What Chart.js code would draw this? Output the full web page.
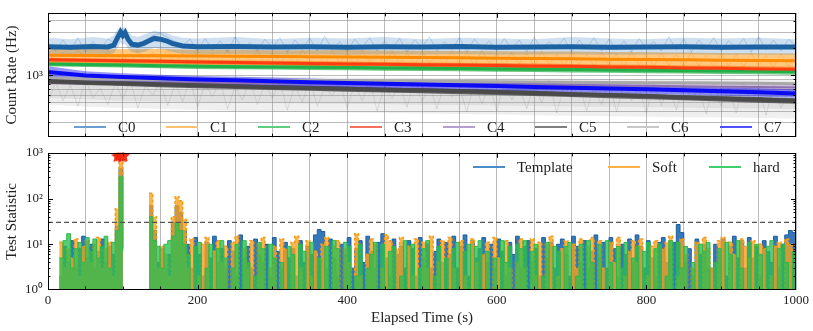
<!DOCTYPE html>
<html><head><meta charset="utf-8">
<script src="https://cdn.jsdelivr.net/npm/chart.js@4/dist/chart.umd.min.js"></script>
<style>
html,body{margin:0;padding:0;background:#fff;}
#wrap{position:relative;width:813px;height:331px;overflow:hidden;font-family:"Liberation Serif",serif;}
#c1{position:absolute;left:0;top:0;}
#c2{position:absolute;left:0;top:140px;}
.leg{position:absolute;height:18px;line-height:18px;font-size:15px;color:#222;white-space:nowrap;}
.leg i{position:absolute;left:0;top:8px;width:32px;height:2px;}
.leg span{position:absolute;left:44px;top:0;}
</style></head>
<body>
<div id="wrap">
<canvas id="c1" width="813" height="150"></canvas>
<canvas id="c2" width="813" height="191"></canvas>
<div id="legends"></div>
</div>
<script>
// ---------- DATA: top panel (count rates, Hz) ----------
const rateTimes = [0,50,100,150,200,250,300,350,400,450,500,550,600,650,700,750,800,850,900,950,1000];
const c0Times = [0,30,60,80,88,93,97,100,103,107,112,120,128,135,142,150,158,166,180,200,250,300,350,400,450,500,550,600,650,700,750,800,850,900,950,1000];
const c0Center = [2060,2040,2070,2050,2150,2600,3000,2750,2950,2500,2200,2150,2250,2400,2550,2500,2400,2250,2100,2060,2070,2050,2060,2040,2060,2050,2070,2040,2050,2060,2040,2050,2060,2040,2050,2050];
const c0Upper  = [2600,2500,2650,2550,2750,3200,3500,3250,3450,3050,2750,2650,2800,2950,3100,3000,2950,2750,2600,2550,2650,2500,2600,2550,2650,2500,2600,2550,2500,2650,2550,2500,2600,2550,2600,2500];
const c0Lower  = [1700,1680,1720,1700,1750,2000,2300,2150,2250,1950,1800,1750,1800,1900,2000,1950,1900,1800,1720,1700,1710,1690,1700,1680,1700,1690,1710,1680,1690,1700,1680,1690,1700,1680,1690,1680];
const c1Center = [1660,1650,1640,1640,1630,1620,1610,1600,1590,1580,1570,1560,1540,1530,1520,1500,1490,1480,1460,1450,1440];
const c1Upper  = [1950,1940,1930,1940,1910,1920,1890,1880,1900,1870,1860,1850,1840,1830,1820,1800,1790,1780,1760,1750,1740];
const c1Lower  = [1330,1320,1310,1300,1300,1290,1280,1270,1260,1250,1250,1240,1230,1220,1210,1200,1190,1180,1170,1160,1150];
const c2Center = [1330,1310,1290,1270,1250,1240,1230,1220,1210,1200,1190,1180,1170,1160,1150,1140,1130,1120,1110,1100,1090];
const c2Upper  = [1400,1380,1360,1340,1320,1310,1300,1290,1280,1270,1260,1250,1240,1230,1220,1210,1200,1190,1180,1170,1160];
const c2Lower  = [1250,1230,1210,1190,1170,1160,1150,1140,1130,1120,1110,1100,1090,1080,1070,1060,1050,1040,1030,1020,1010];
const c3Center = [1480,1460,1440,1420,1400,1380,1360,1340,1330,1320,1300,1290,1280,1260,1250,1230,1220,1200,1190,1170,1160];
const c3Upper  = [1560,1540,1520,1500,1480,1460,1440,1420,1410,1400,1380,1370,1360,1340,1330,1310,1300,1280,1270,1250,1240];
const c3Lower  = [1400,1380,1360,1340,1320,1300,1290,1270,1260,1250,1230,1220,1210,1190,1180,1160,1150,1140,1120,1110,1100];
const c4Center = [840,835,830,825,820,815,810,805,800,795,790,785,780,775,770,765,760,750,745,740,730];
const c4Upper  = [900,895,890,885,880,875,870,865,860,855,850,845,840,835,830,825,820,810,805,800,790];
const c4Lower  = [780,775,770,765,760,755,750,745,740,735,730,725,720,715,710,705,700,690,685,680,670];
const c5Center = [860,830,810,790,770,750,735,720,705,690,680,665,650,635,615,600,585,565,550,535,520];
const c5Upper  = [900,870,850,830,810,790,775,760,745,730,715,700,685,670,650,635,620,600,585,570,555];
const c5Lower  = [800,775,755,735,715,700,685,670,655,640,630,615,600,585,570,555,540,525,510,495,480];
const c5Noise  = [470,450,430,420,410,400,395,390,385,380,375,370,365,360,355,350,345,340,340,335,330];
const c6Center = [920,910,900,890,885,880,875,870,865,860,855,850,845,840,835,830,825,820,815,810,800];
const c6Upper  = [1000,990,980,970,965,960,950,945,940,935,930,925,920,915,910,900,895,890,885,880,870];
const c6Lower  = [560,540,520,510,500,495,490,485,480,475,470,465,460,455,450,445,440,435,430,425,420];
const c7Center = [1080,990,950,920,895,875,855,835,815,800,785,770,755,740,725,710,695,680,660,645,625];
const c7Upper  = [1250,1100,1050,1010,980,960,940,915,895,880,865,850,830,815,800,785,770,750,730,715,695];
const c7Lower  = [950,880,850,820,800,780,760,745,730,715,700,690,675,660,650,635,620,605,590,575,560];
// raw fluctuation traces, one value every 10 s (0..1000 s)
const c0Raw = [2300,1850,2450,1900,2600,1800,2350,1950,2500,2250, 3300,2400,2200,2350,2750,2900,2600,2350,2150,2500,
 1850,2550,1900,2400,1800,2650,1950,2300,1850,2500, 2000,2600,1800,2450,1950,2550,1850,2700,1900,2350,
 1800,2500,2000,2600,1850,2400,1950,2550,1800,2450, 2050,2650,1850,2350,1900,2600,1800,2500,2000,2400,
 1850,2550,1950,2450,1800,2650,1900,2350,2000,2550, 1800,2450,1950,2600,1850,2500,1900,2400,1800,2550,
 2000,2350,1850,2650,1900,2500,1800,2450,1950,2600, 1850,2400,2000,2550,1800,2650,1900,2450,1850,2500, 2100];
const c1Raw = [1900,1300,1800,1350,1950,1400,1750,1280,1850,1450, 1700,1300,1900,1350,1800,1420,1950,1300,1750,1380,
 1850,1290,1780,1400,1900,1320,1700,1450,1880,1300, 1820,1350,1760,1280,1900,1400,1700,1300,1850,1360,
 1780,1270,1880,1380,1720,1300,1860,1340,1750,1290, 1840,1360,1700,1280,1820,1320,1760,1260,1880,1350,
 1720,1280,1800,1330,1740,1250,1850,1300,1700,1270, 1800,1320,1690,1260,1780,1290,1720,1240,1820,1300,
 1680,1250,1760,1280,1700,1230,1790,1270,1660,1220, 1750,1260,1680,1230,1770,1250,1650,1210,1720,1240, 1700];
const c6Raw = [480,850,520,780,450,900,560,720,470,830, 540,880,430,760,600,840,460,800,510,870,
 440,790,580,860,420,740,530,890,470,810, 560,850,410,770,500,880,450,730,590,840,
 430,800,520,870,400,760,550,820,440,890, 510,780,420,850,570,740,390,830,480,800,
 400,860,530,750,420,820,490,880,380,770, 550,810,400,740,470,860,390,790,520,720,
 380,830,460,760,410,800,540,700,370,840, 450,750,380,810,500,720,360,780,430,700, 400];
const channelNames = ['C0','C1','C2','C3','C4','C5','C6','C7'];

// ---------- DATA: bottom panel (test statistic, 5 s bins from 15 s) ----------
const tsStart = 15, tsStep = 5;
const tsTemplate = [2,9,4,12,3,8,15,5,10,3,7,13,4,9,6,25,450,8,
 null,null,null,null,null,null,
 70,20,4,8,3,6,30,70,50,20,
 10,3,14,6,2,11,5,15,4,8,
 3,12,7,2,16,5,9,3,13,6,
 4,10,2,14,7,3,11,5,8,2,
 12,4,9,6,16,21,19,3,13,5,
 2,10,6,14,3,8,12,4,15,7,
 3,11,17,5,2,13,6,9,3,12,
 8,2,14,5,10,3,7,13,4,11,
 6,15,3,9,16,2,12,5,8,14,
 4,10,3,13,7,2,11,6,15,3,
 9,12,4,8,2,14,5,11,3,10,
 13,6,2,15,9,4,12,3,7,16,
 5,11,3,14,8,2,10,6,13,4,
 16,9,3,12,5,2,11,14,4,8,
 11,27,18,4,8,2,13,6,10,3,
 3,10,7,13,2,9,15,5,12,3,
 14,5,9,2,12,7,4,15,3,10,
 16,20,18,19];
const tsSoft = [11,3,8,5,13,2,9,12,4,10,14,3,8,11,2,60,620,9,
 null,null,null,null,null,null,
 130,40,3,9,6,2,40,110,90,35,
 3,13,1,2,10,14,1,7,12,4,
 9,1,11,15,1,8,3,12,1,10,
 14,1,3,9,1,13,8,1,11,15,
 3,1,12,2,7,1,10,14,1,9,
 12,1,8,4,1,17,2,1,6,13,
 10,1,3,16,12,1,8,14,1,9,
 2,13,1,11,3,15,1,4,12,1,
 14,3,1,12,2,1,13,4,1,6,
 11,1,14,5,1,12,3,1,4,13,
 3,1,13,2,11,1,10,15,1,2,
 8,12,1,10,3,13,1,9,14,1,
 12,3,1,11,4,14,1,2,7,12,
 4,13,1,2,9,12,1,8,11,15,
 1,2,13,6,1,3,11,1,14,8,
 3,1,12,14,1,11,6,1,13,9,
 5,12,1,10,8,1,2,9,11,1,
 13,10,1,11];
const tsHard = [5,12,17,3,8,11,4,14,7,13,5,9,15,3,11,20,300,7,
 null,null,null,null,null,null,
 40,12,9,3,10,12,15,30,20,10,
 6,1,9,11,1,3,10,1,8,12,
 5,1,3,10,1,12,4,1,2,11,
 8,1,10,5,1,4,1,9,6,1,
 10,7,1,11,1,5,1,9,1,12,
 8,1,11,9,1,2,10,1,3,6,
 11,1,10,1,7,9,1,2,12,1,
 10,1,3,8,12,1,2,9,1,5,
 1,8,11,1,7,10,1,9,12,1,
 7,1,5,1,12,4,9,1,10,8,
 12,1,7,10,1,2,11,1,9,7,
 1,9,11,1,2,10,1,12,4,1,
 10,1,12,4,1,9,3,11,1,5,
 9,1,7,11,1,8,10,1,2,12,
 1,11,3,9,1,4,1,10,7,11,
 1,4,8,1,11,6,1,12,3,1,
 11,1,10,6,1,9,12,1,8,10,
 4,1,7,12];
const thresholdTimes = [0,1000];
const thresholdValues = [30,30];
const triggerTimes = [93,96,99,101];
const triggerValues = [850,880,840,870];
const tsNames = ['Template','Soft','hard'];

// ---------- helpers ----------
Chart.defaults.font.family = "'Liberation Serif', serif";
Chart.defaults.color = '#222';
Chart.defaults.animation = false;
const pts = (t, v) => t.map((x, i) => ({x, y: v[i]}));
const rawTimes = c0Raw.map((_, i) => 10 * i);
const tsTimes = tsTemplate.map((_, i) => tsStart + tsStep * i);
const isNice = v => { const e = Math.floor(Math.log10(v) + 1e-9); const s = v / Math.pow(10, e); return Math.abs(s - Math.round(s)) < 1e-6; };
const isDecade = v => Math.abs(Math.log10(v) - Math.round(Math.log10(v))) < 1e-6;
const SUP = {'0':'⁰','1':'¹','2':'²','3':'³'};

const framePlugin = {
  id: 'frame',
  afterDraw(chart) {
    const {ctx, chartArea: a, scales} = chart;
    ctx.save();
    ctx.strokeStyle = '#000'; ctx.lineWidth = 1;
    ctx.beginPath();
    scales.x.ticks.forEach(t => {
      if (t.value <= 0 || t.value >= 1000) return;
      const px = Math.round(scales.x.getPixelForValue(t.value)) + 0.5;
      const L = (t.value % 200 === 0) ? 5 : 3.5;
      ctx.moveTo(px, a.top); ctx.lineTo(px, a.top + L);
      ctx.moveTo(px, a.bottom); ctx.lineTo(px, a.bottom - L);
    });
    scales.y.ticks.forEach(t => {
      if (!isNice(t.value)) return;
      const py = Math.round(scales.y.getPixelForValue(t.value)) + 0.5;
      if (py <= a.top + 1 || py >= a.bottom - 1) return;
      const L = isDecade(t.value) ? 5 : 2.5;
      ctx.moveTo(a.left, py); ctx.lineTo(a.left + L, py);
      ctx.moveTo(a.right, py); ctx.lineTo(a.right - L, py);
    });
    ctx.stroke();
    ctx.strokeRect(Math.round(a.left) + 0.5, Math.round(a.top) + 0.5, Math.round(a.right - a.left) - 1, Math.round(a.bottom - a.top) - 1);
    ctx.restore();
  }
};

function band(times, up, lo, color, order) {
  return [
    {data: pts(times, up), borderWidth: 0, backgroundColor: color, fill: '+1', order, pointRadius: 0},
    {data: pts(times, lo), borderWidth: 0, backgroundColor: 'rgba(0,0,0,0)', fill: false, order, pointRadius: 0}
  ];
}
function core(times, v, color, width, order) {
  return {data: pts(times, v), borderColor: color, borderWidth: width, fill: false, order, pointRadius: 0};
}

const gridGrey = 'rgba(120,120,120,0.5)';

// ---------- top chart ----------
const topDatasets = [
  ...band(rateTimes, c5Center, c5Noise, 'rgba(150,150,150,0.15)', 60),
  core(rawTimes, c6Raw, 'rgba(140,140,140,0.3)', 0.8, 59.5),
  ...band(rateTimes, c6Upper, c6Lower, 'rgba(170,170,170,0.22)', 59),
  ...band(rateTimes, c4Upper, c4Lower, 'rgba(148,103,189,0.35)', 58),
  ...band(rateTimes, c5Upper, c5Lower, 'rgba(70,70,70,0.8)', 57),
  ...band(rateTimes, c7Upper, c7Lower, 'rgba(20,20,240,0.45)', 56),
  core(rawTimes, c1Raw, 'rgba(255,150,40,0.4)', 0.8, 55.5),
  ...band(rateTimes, c2Upper, c2Lower, 'rgba(40,175,70,0.7)', 55),
  ...band(rateTimes, c3Upper, c3Lower, 'rgba(255,70,20,0.6)', 54),
  ...band(rateTimes, c1Upper, c1Lower, 'rgba(255,145,0,0.5)', 53),
  ...band(c0Times, c0Upper, c0Lower, 'rgba(31,110,180,0.22)', 52),
  core(rawTimes, c0Raw, 'rgba(31,110,180,0.3)', 0.8, 51),
  core(rateTimes, c6Center, '#a8a8a8', 3, 10),
  core(rateTimes, c4Center, '#8e70b0', 2, 9),
  core(rateTimes, c5Center, '#4a4a4a', 4, 8),
  core(rateTimes, c7Center, '#0a0af5', 4, 7),
  core(rateTimes, c2Center, '#1fb04a', 3, 6),
  core(rateTimes, c1Center, '#ff8c00', 3, 5),
  core(rateTimes, c3Center, '#ff3d10', 3, 4),
  core(c0Times, c0Center, '#1c62a2', 5, 3)
];

new Chart(document.getElementById('c1'), {
  type: 'line',
  data: {datasets: topDatasets},
  options: {
    responsive: false, events: [],
    layout: {padding: {top: 5, right: 17, bottom: 7, left: 0}},
    plugins: {legend: {display: false}, tooltip: {enabled: false}},
    scales: {
      x: {type: 'linear', min: 0, max: 1000, z: 1,
          ticks: {display: false, stepSize: 50, autoSkip: false},
          grid: {color: gridGrey, drawTicks: false}, border: {display: false},
          afterFit(s) { s.height = 0; }},
      y: {type: 'logarithmic', min: 205, max: 4900, z: 1,
          ticks: {autoSkip: false, padding: 5, font: {size: 13}, color: '#222',
                  callback: v => Math.abs(v - 1000) < 1e-6 ? '10³' : ''},
          grid: {drawTicks: false, color: c => isNice(c.tick.value) ? gridGrey : 'rgba(0,0,0,0)'},
          border: {display: false},
          title: {display: true, text: 'Count Rate (Hz)', font: {size: 15}, padding: {top: 3, bottom: 0}, color: '#222'},
          afterFit(s) { s.width = 48; }}
    }
  },
  plugins: [framePlugin]
});

// ---------- bottom chart ----------
function starImage() {
  const c = document.createElement('canvas'); c.width = 13; c.height = 13;
  const g = c.getContext('2d'); g.beginPath();
  for (let i = 0; i < 10; i++) {
    const r = i % 2 ? 2.7 : 6.2; const ang = -Math.PI / 2 + i * Math.PI / 5;
    const px = 6.5 + r * Math.cos(ang), py = 7 + r * Math.sin(ang);
    if (i) g.lineTo(px, py); else g.moveTo(px, py);
  }
  g.closePath(); g.fillStyle = '#ff3015'; g.fill();
  g.strokeStyle = '#e02000'; g.lineWidth = 0.8; g.stroke();
  return c;
}
const star = starImage();

new Chart(document.getElementById('c2'), {
  type: 'line',
  data: {datasets: [
    {label: 'Template', data: pts(tsTimes, tsTemplate), stepped: true, fill: 'start',
     backgroundColor: 'rgba(30,105,180,0.9)', borderColor: '#1d5e9e', borderWidth: 1, pointRadius: 0, order: 30},
    {label: 'Soft', data: pts(tsTimes, tsSoft), stepped: true, fill: 'start',
     backgroundColor: 'rgba(250,160,30,0.8)', borderColor: '#f59a16', borderWidth: 1.5, borderDash: [3, 2], pointRadius: 0, order: 20},
    {label: 'hard', data: pts(tsTimes, tsHard), stepped: true, fill: 'start',
     backgroundColor: 'rgba(45,190,80,0.78)', borderColor: '#2cb84c', borderWidth: 1, pointRadius: 0, order: 10},
    {label: 'threshold', data: pts(thresholdTimes, thresholdValues), borderColor: '#555', borderWidth: 1.2,
     borderDash: [5, 3], fill: false, pointRadius: 0, order: 2},
    {label: 'trigger', data: pts(triggerTimes, triggerValues), showLine: false, pointStyle: star,
     pointRadius: 6, order: 1}
  ]},
  options: {
    responsive: false, events: [],
    layout: {padding: {top: 7, right: 17, bottom: 0, left: 0}},
    plugins: {legend: {display: false}, tooltip: {enabled: false}},
    scales: {
      x: {type: 'linear', min: 0, max: 1000, z: 1,
          ticks: {stepSize: 50, autoSkip: false, maxRotation: 0, padding: 3, font: {size: 13}, color: '#222',
                  callback: v => v % 200 === 0 ? String(v) : ''},
          grid: {color: gridGrey, drawTicks: false}, border: {display: false},
          title: {display: true, text: 'Elapsed Time (s)', font: {size: 15}, padding: {top: 0, bottom: 4}, color: '#222'},
          afterFit(s) { s.height = 41; }},
      y: {type: 'logarithmic', min: 1, max: 1000, z: 1,
          ticks: {autoSkip: false, padding: 5, font: {size: 13}, color: '#222',
                  callback: v => isDecade(v) ? '10' + SUP[String(Math.round(Math.log10(v)))] : ''},
          grid: {display: false, drawTicks: false}, border: {display: false},
          title: {display: true, text: 'Test Statistic', font: {size: 15}, padding: {top: 3, bottom: 0}, color: '#222'},
          afterFit(s) { s.width = 48; }}
    }
  },
  plugins: [framePlugin]
});

// ---------- legends (HTML text) ----------
const topLegendColors = ['#6a9fd2','#ffc070','#5fcf7e','#f4705a','#b49fd0','#7f7f7f','#c8c8c8','#4f4fff'];
const topLegendLeft = [74,166,258,350,443,535,627,720];
const botLegendColors = ['#4b8bc8','#ffb040','#3fd06c'];
const botLegendLeft = [473,608,709];
const legHost = document.getElementById('legends');
function addLeg(name, color, left, yc) {
  const d = document.createElement('div'); d.className = 'leg';
  d.style.left = left + 'px'; d.style.top = (yc - 9) + 'px';
  d.innerHTML = '<i style="background:' + color + '"></i><span>' + name + '</span>';
  legHost.appendChild(d);
}
channelNames.forEach((n, i) => addLeg(n, topLegendColors[i], topLegendLeft[i], 127));
tsNames.forEach((n, i) => addLeg(n, botLegendColors[i], botLegendLeft[i], 167));
</script>
</body></html>
